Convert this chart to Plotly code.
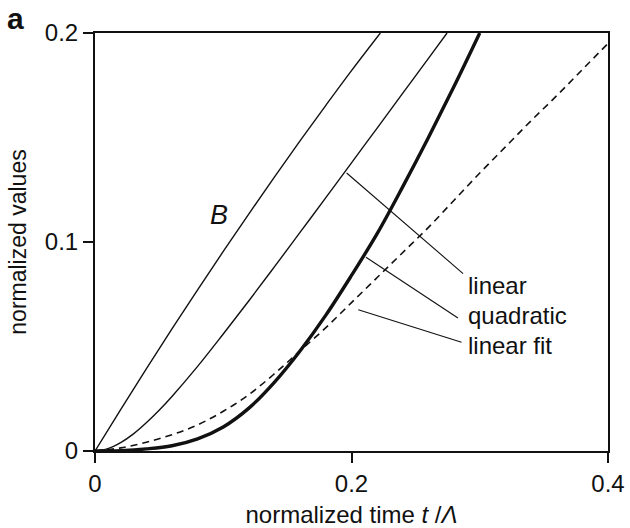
import plotly.graph_objects as go

# ---- data ----
b_t = [0, 0.02, 0.04, 0.06, 0.08, 0.10, 0.12, 0.14, 0.16, 0.18, 0.20, 0.2225]
b_v = [0, 0.0198, 0.0393, 0.0584, 0.0771, 0.0955, 0.1135, 0.1312, 0.1485, 0.1654, 0.182, 0.200]

lin_t = [0, 0.01, 0.02, 0.03, 0.04, 0.05, 0.06, 0.08, 0.10, 0.12, 0.14, 0.16, 0.18, 0.20, 0.22, 0.24, 0.26, 0.2745]
lin_v = [0, 0.0011, 0.0040, 0.0082, 0.0135, 0.0195, 0.0261, 0.0405, 0.0560, 0.0719, 0.0882, 0.1047, 0.1212, 0.1379, 0.1545, 0.1712, 0.1879, 0.200]

quad_t = [0, 0.02, 0.04, 0.06, 0.08, 0.10, 0.12, 0.14, 0.16, 0.18, 0.20, 0.22, 0.24, 0.26, 0.28, 0.30]
quad_v = [0, 0.0002, 0.0010, 0.0025, 0.0058, 0.0115, 0.0205, 0.0330, 0.0480, 0.0650, 0.0840, 0.1040, 0.1265, 0.1500, 0.1745, 0.200]

fit_t = [0, 0.02, 0.04, 0.06, 0.08, 0.10, 0.12, 0.14, 0.16, 0.18, 0.20, 0.22, 0.24, 0.26, 0.28, 0.30, 0.32, 0.34, 0.36, 0.38, 0.40]
fit_v = [0, 0.0015, 0.0042, 0.0078, 0.0125, 0.0190, 0.0270, 0.0370, 0.0480, 0.0590, 0.0710, 0.0830, 0.0950, 0.1070, 0.1200, 0.1330, 0.1455, 0.1580, 0.1700, 0.1825, 0.1950]

# leader lines: (start on curve) -> (label end)
leader_linear_t = [0.1962, 0.287]
leader_linear_v = [0.1330, 0.0849]
leader_quad_t = [0.2113, 0.283]
leader_quad_v = [0.0927, 0.0636]
leader_fit_t = [0.2053, 0.2858]
leader_fit_v = [0.0676, 0.0520]

label_texts = ["linear", "quadratic", "linear fit"]
label_t = [0.289, 0.289, 0.289]
label_v = [0.0794, 0.0650, 0.0507]

x_ticks = [0, 0.2, 0.4]
x_ticklabels = ["0", "0.2", "0.4"]
y_ticks = [0, 0.1, 0.2]
y_ticklabels = ["0", "0.1", "0.2"]

FONT = "Liberation Sans, Arial, Helvetica, sans-serif"
BLACK = "#111111"

fig = go.Figure()
fig.add_trace(go.Scatter(x=b_t, y=b_v, mode="lines", line=dict(color=BLACK, width=1.4, shape="spline"), showlegend=False))
fig.add_trace(go.Scatter(x=lin_t, y=lin_v, mode="lines", line=dict(color=BLACK, width=1.4, shape="spline"), showlegend=False))
fig.add_trace(go.Scatter(x=fit_t, y=fit_v, mode="lines", line=dict(color=BLACK, width=1.6, dash="7px,5px", shape="spline"), showlegend=False))
fig.add_trace(go.Scatter(x=quad_t, y=quad_v, mode="lines", line=dict(color=BLACK, width=3.4, shape="spline"), showlegend=False))
for lt, lv in [(leader_linear_t, leader_linear_v), (leader_quad_t, leader_quad_v), (leader_fit_t, leader_fit_v)]:
    fig.add_trace(go.Scatter(x=lt, y=lv, mode="lines", line=dict(color=BLACK, width=1.1), showlegend=False))

for txt, t, v in zip(label_texts, label_t, label_v):
    fig.add_annotation(x=t, y=v, text=txt, showarrow=False, xanchor="left", yanchor="middle",
                       font=dict(family=FONT, size=24, color=BLACK))

fig.add_annotation(x=0.097, y=0.113, text="<i>B</i>", showarrow=False, xanchor="center", yanchor="middle",
                   font=dict(family=FONT, size=27, color=BLACK))

fig.add_annotation(xref="paper", yref="paper", x=-0.176, y=1.035, xanchor="left", yanchor="middle",
                   text="<b>a</b>", showarrow=False, font=dict(family=FONT, size=30, color=BLACK))

axis_common = dict(showgrid=False, zeroline=False, showline=True, linecolor=BLACK, linewidth=2,
                   mirror=True, ticks="outside", ticklen=10, tickwidth=2, tickcolor=BLACK,
                   automargin=False, tickfont=dict(family=FONT, size=24, color=BLACK))

fig.update_xaxes(range=[0, 0.4], tickvals=x_ticks, ticktext=x_ticklabels,
                 title=dict(text="normalized time <i>t</i> /<i>Λ</i>", font=dict(family=FONT, size=24, color=BLACK), standoff=11),
                 **axis_common)
fig.update_yaxes(range=[0, 0.2], tickvals=y_ticks, ticktext=y_ticklabels,
                 title=dict(text="normalized values", font=dict(family=FONT, size=23, color=BLACK), standoff=12),
                 **axis_common)

fig.update_layout(width=630, height=528, margin=dict(l=95, r=22, t=33, b=77),
                  plot_bgcolor="white", paper_bgcolor="white", showlegend=False)

fig.write_html("out.html")
